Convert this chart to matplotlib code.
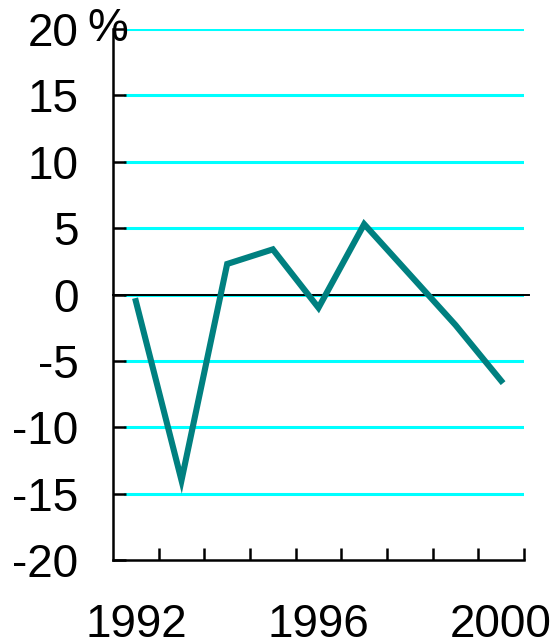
import numpy as np
import matplotlib
matplotlib.use("Agg")
import matplotlib.pyplot as plt

years = [1992, 1993, 1994, 1995, 1996, 1997, 1998, 1999, 2000]
values = [-0.5, -14.0, 2.3, 3.4, -1.0, 5.3, 1.5, -2.3, -6.5]
yticks = [-20, -15, -10, -5, 0, 5, 10, 15, 20]
xlabels = [1992, 1996, 2000]

plt.rcParams["font.family"] = ["Liberation Sans", "DejaVu Sans"]

W, H = 552, 644
fig = plt.figure(figsize=(W / 100, H / 100), dpi=100)
ax = fig.add_axes([113 / W, 1 - 560 / H, 411 / W, 531 / H])

# cyan gridlines, starting just right of the inward ticks
for y in yticks:
    if y == -20:
        continue
    ax.axhline(y, xmin=12 / 411, xmax=1, color="#00ffff", lw=2.2, zorder=1)
ax.axhline(0, xmin=0, xmax=416 / 411, color="black", lw=1.4, zorder=2, clip_on=False)

ax.plot(years, values, color="#008080", lw=4.4, solid_joinstyle="miter", zorder=3)

ax.set_xlim(1991.5, 2000.5)
ax.set_ylim(-20, 20)
for s in ("top", "right"):
    ax.spines[s].set_visible(False)
for s in ("left", "bottom"):
    ax.spines[s].set_linewidth(1.8)

ax.set_yticks(yticks)
ax.set_yticklabels([str(v) for v in yticks])
ax.tick_params(axis="y", direction="in", length=9, width=1.8, labelsize=33, pad=25)

ax.set_xticks(xlabels)
ax.set_xticklabels([str(v) for v in xlabels])
ax.set_xticks(np.arange(1992.5, 2000.6, 1), minor=True)
ax.tick_params(axis="x", which="major", length=0, labelsize=33, pad=31)
ax.tick_params(axis="x", which="minor", direction="in", length=9, width=1.8)

ax.text(108 / W, 1 - 29 / H, "%", transform=fig.transFigure, fontsize=33,
        ha="center", va="center")

fig.savefig("out.png", dpi=100)
